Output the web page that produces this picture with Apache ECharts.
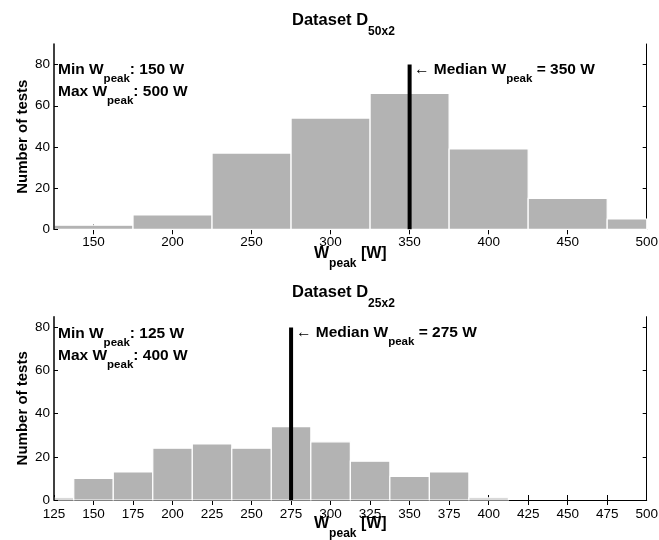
<!DOCTYPE html>
<html>
<head>
<meta charset="utf-8">
<script src="https://cdn.jsdelivr.net/npm/echarts@6/dist/echarts.min.js"></script>
<style>
html,body{margin:0;padding:0;background:#fff;}
#main{width:659px;height:540px;}
</style>
</head>
<body>
<div id="main"></div>
<script>
// ---- data ----
const topCenters = [150, 200, 250, 300, 350, 400, 450, 500];
const topCounts = [2, 7, 37, 54, 66, 39, 15, 5];
const topBinWidth = 50;
const topMedian = 350;
const topMin = 150, topMax = 500;

const botCenters = [125, 150, 175, 200, 225, 250, 275, 300, 325, 350, 375, 400, 425, 450, 475, 500];
const botCounts = [1, 10, 13, 24, 26, 24, 34, 27, 18, 11, 13, 1, 0, 0, 0, 0];
const botBinWidth = 25;
const botMedian = 275;
const botMin = 125, botMax = 400;

const medianTop = 80;
const topXTicks = [150, 200, 250, 300, 350, 400, 450, 500];
const botXTicks = [125, 150, 175, 200, 225, 250, 275, 300, 325, 350, 375, 400, 425, 450, 475, 500];
const yTicks = [0, 20, 40, 60, 80];
const xRange = [125, 500];
const topYMax = 90, botYMax = 85;

// ---- chart ----
const FONT = '"Liberation Sans", Arial, Helvetica, sans-serif';
const chart = echarts.init(document.getElementById('main'), null, {renderer: 'canvas'});

function histRender(binWidth) {
  return function (params, api) {
    const c = api.value(0), v = api.value(1);
    if (!(v > 0)) return null;
    const p0 = api.coord([c - binWidth / 2, v]);
    const p1 = api.coord([c + binWidth / 2, 0]);
    const rect = {x: p0[0], y: p0[1], width: p1[0] - p0[0], height: p1[1] - p0[1]};
    const cs = params.coordSys;
    const clipped = echarts.graphic.clipRectByRect(rect, {x: cs.x, y: cs.y, width: cs.width, height: cs.height});
    if (!clipped) return null;
    return {type: 'rect', shape: clipped, style: {fill: '#b3b3b3', stroke: '#ffffff', lineWidth: 1.2}};
  };
}

const subRich = {
  b: {fontFamily: FONT, fontSize: 15.5, fontWeight: 'bold', color: '#000', lineHeight: 23, verticalAlign: 'top'},
  s: {fontFamily: FONT, fontSize: 11.5, fontWeight: 'bold', color: '#000', lineHeight: 4, verticalAlign: 'bottom'},
  a: {fontFamily: FONT, fontSize: 15.5, fontWeight: 'normal', color: '#000', lineHeight: 23, verticalAlign: 'top'}
};
const titleRich = {
  b: {fontFamily: FONT, fontSize: 16.5, fontWeight: 'bold', color: '#000', lineHeight: 25.5, verticalAlign: 'top'},
  s: {fontFamily: FONT, fontSize: 12, fontWeight: 'bold', color: '#000', lineHeight: 4, verticalAlign: 'bottom'}
};
const nameRich = {
  b: {fontFamily: FONT, fontSize: 16, fontWeight: 'bold', color: '#000', lineHeight: 24, verticalAlign: 'top'},
  s: {fontFamily: FONT, fontSize: 12, fontWeight: 'bold', color: '#000', lineHeight: 0, verticalAlign: 'bottom'}
};

function xBottom(gridIndex, ticks, labelMargin) {
  return {
    type: 'value', gridIndex: gridIndex, position: 'bottom', min: xRange[0], max: xRange[1], z: 0,
    axisLine: {show: true, lineStyle: {color: '#c4c4c4', width: 1}},
    axisTick: {show: true, inside: true, length: 5, customValues: ticks, lineStyle: {color: '#000'}},
    axisLabel: {customValues: ticks, fontFamily: FONT, fontSize: 13.5, color: '#000', margin: labelMargin},
    splitLine: {show: false},
    name: '{b|W}{s|peak}{b| [W]}',
    nameLocation: 'middle', nameGap: 16, nameMoveOverlap: false,
    nameTextStyle: {rich: nameRich}
  };
}
function xTop(gridIndex, ticks) {
  return {
    type: 'value', gridIndex: gridIndex, position: 'top', min: xRange[0], max: xRange[1],
    axisLine: {show: true, lineStyle: {color: '#000', width: 1}},
    axisTick: {show: true, inside: true, length: 5, customValues: ticks, lineStyle: {color: '#000'}},
    axisLabel: {show: false},
    splitLine: {show: false}
  };
}
function yLeft(gridIndex, max) {
  return {
    type: 'value', gridIndex: gridIndex, position: 'left', min: 0, max: max, z: 5,
    axisLine: {show: true, lineStyle: {color: '#000', width: 1.5}},
    axisTick: {show: true, inside: true, length: 4, customValues: yTicks, lineStyle: {color: '#000'}},
    axisLabel: {customValues: yTicks, fontFamily: FONT, fontSize: 13.5, color: '#000', margin: 4},
    splitLine: {show: false},
    name: 'Number of tests', nameLocation: 'middle', nameGap: 24, nameMoveOverlap: false,
    nameTextStyle: {fontFamily: FONT, fontSize: 15, fontWeight: 'bold', color: '#000'}
  };
}
function yRight(gridIndex, max) {
  return {
    type: 'value', gridIndex: gridIndex, position: 'right', min: 0, max: max,
    axisLine: {show: true, lineStyle: {color: '#000', width: 1}},
    axisTick: {show: true, inside: true, length: 4, customValues: yTicks, lineStyle: {color: '#000'}},
    axisLabel: {show: false},
    splitLine: {show: false}
  };
}

function medianLine(xIdx, yIdx, m) {
  return {
    type: 'line', xAxisIndex: xIdx, yAxisIndex: yIdx, z: 6,
    data: [[m, 0], [m, medianTop]], symbol: 'none', silent: true,
    lineStyle: {color: '#000', width: 4}
  };
}

const option = {
  backgroundColor: '#fff',
  animation: false,
  title: [
    {text: '{b|Dataset D}{s|50x2}', left: 292, top: 12, padding: 0, textStyle: {rich: titleRich}},
    {text: '{b|Dataset D}{s|25x2}', left: 292, top: 284, padding: 0, textStyle: {rich: titleRich}}
  ],
  grid: [
    {left: 54, right: 12.3, top: 44, height: 185.3, outerBoundsMode: 'none', containLabel: false},
    {left: 54, right: 12.3, top: 316.7, height: 183.3, outerBoundsMode: 'none', containLabel: false}
  ],
  xAxis: [xBottom(0, topXTicks, 6), xTop(0, topXTicks.slice(0, -1)), xBottom(1, botXTicks, 7), xTop(1, botXTicks.slice(1, -1))],
  yAxis: [yLeft(0, topYMax), yRight(0, topYMax), yLeft(1, botYMax), yRight(1, botYMax)],
  series: [
    {type: 'custom', xAxisIndex: 0, yAxisIndex: 0, z: 3, renderItem: histRender(topBinWidth),
      encode: {x: 0, y: 1}, data: topCenters.map((c, i) => [c, topCounts[i]])},
    {type: 'custom', xAxisIndex: 2, yAxisIndex: 2, z: 3, renderItem: histRender(botBinWidth),
      encode: {x: 0, y: 1}, data: botCenters.map((c, i) => [c, botCounts[i]])},
    medianLine(0, 0, topMedian),
    medianLine(2, 2, botMedian)
  ],
  graphic: [
    {type: 'text', left: 58, top: 62, z: 10, style: {text: '{b|Min W}{s|peak}{b|: ' + topMin + ' W}', rich: subRich}},
    {type: 'text', left: 58, top: 84, z: 10, style: {text: '{b|Max W}{s|peak}{b|: ' + topMax + ' W}', rich: subRich}},
    {type: 'text', left: 414, top: 62, z: 10, style: {text: '{a|\u2190 }{b|Median W}{s|peak}{b| = ' + topMedian + ' W}', rich: subRich}},
    {type: 'text', left: 58, top: 325.5, z: 10, style: {text: '{b|Min W}{s|peak}{b|: ' + botMin + ' W}', rich: subRich}},
    {type: 'text', left: 58, top: 348, z: 10, style: {text: '{b|Max W}{s|peak}{b|: ' + botMax + ' W}', rich: subRich}},
    {type: 'text', left: 296, top: 325, z: 10, style: {text: '{a|\u2190 }{b|Median W}{s|peak}{b| = ' + botMedian + ' W}', rich: subRich}}
  ]
};
chart.setOption(option);
</script>
</body>
</html>
